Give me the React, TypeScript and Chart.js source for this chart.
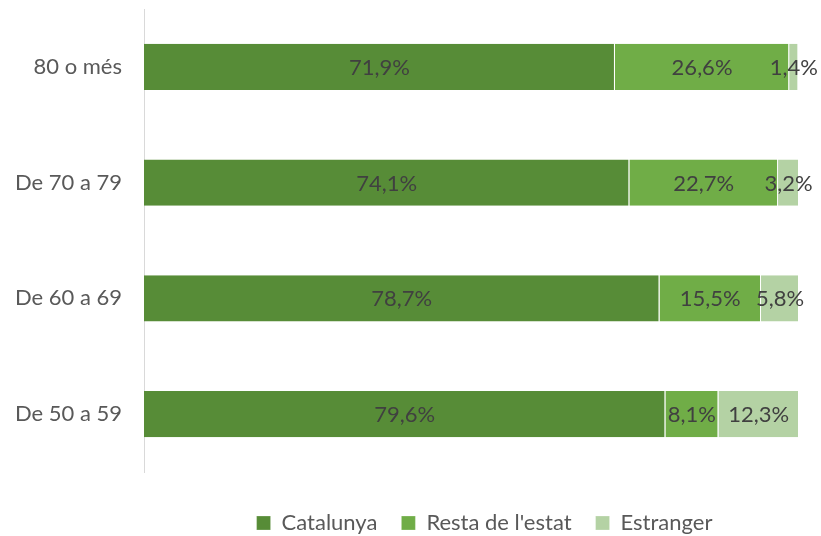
import React, { useEffect, useRef } from "react";
import { Chart, registerables } from "chart.js";

Chart.register(...registerables);

const categories = ["80 o més", "De 70 a 79", "De 60 a 69", "De 50 a 59"];
const catalunya = [71.9, 74.1, 78.7, 79.6];
const restaEstat = [26.6, 22.7, 15.5, 8.1];
const estranger = [1.4, 3.2, 5.8, 12.3];
const seriesNames = ["Catalunya", "Resta de l'estat", "Estranger"];
const seriesColors = ["#578C37", "#70AD47", "#B4D2A4"];

const FONT = "Lato, 'Open Sans', sans-serif";
const FS = 22;

const fmt = (v: number) => v.toFixed(1).replace(".", ",") + "%";

const labelPlugin = {
  id: "barLabels",
  afterDatasetsDraw(chart: any) {
    const ctx = chart.ctx;
    ctx.save();
    ctx.font = `${FS}px ${FONT}`;
    ctx.fillStyle = "#404040";
    ctx.textAlign = "center";
    ctx.textBaseline = "middle";
    chart.data.datasets.forEach((ds: any, di: number) => {
      const meta = chart.getDatasetMeta(di);
      meta.data.forEach((bar: any, i: number) => {
        const v = ds.data[i];
        const cx = (bar.x + bar.base) / 2;
        ctx.fillText(fmt(v), cx, bar.y + 1);
      });
    });
    ctx.restore();
  },
};

const legendShift = {
  id: "legendShift",
  afterLayout(chart: any) {
    const lg = chart.legend;
    if (!lg) return;
    const dx = 85;
    const dy = 16;
    lg.left += dx;
    lg.right += dx;
    lg.top += dy;
    lg.bottom += dy;
  },
};

export default function App() {
  const ref = useRef<HTMLCanvasElement | null>(null);
  useEffect(() => {
    if (!ref.current) return;
    const data = [catalunya, restaEstat, estranger];
    const chart = new Chart(ref.current, {
      type: "bar",
      data: {
        labels: categories,
        datasets: seriesNames.map((name, k) => ({
          label: name,
          data: data[k],
          backgroundColor: seriesColors[k],
          borderColor: "#ffffff",
          borderWidth: { left: 0, right: 1, top: 0, bottom: 0 },
          borderSkipped: false,
          categoryPercentage: 1,
          barPercentage: 0.4,
        })),
      },
      options: {
        indexAxis: "y",
        animation: false,
        responsive: false,
        maintainAspectRatio: false,
        layout: { padding: { top: 9, right: 22, left: 0, bottom: 8 } },
        scales: {
          x: {
            stacked: true,
            min: 0,
            max: 100,
            display: false,
          },
          y: {
            stacked: true,
            grid: { display: false, drawTicks: false },
            border: { display: true, color: "#D9D9D9", width: 1 },
            ticks: {
              color: "#595959",
              font: { family: FONT, size: FS },
              padding: 22,
            },
            afterFit: (scale: any) => {
              scale.width = 144;
              scale.paddingTop = 0;
              scale.paddingBottom = 0;
            },
          },
        },
        plugins: {
          legend: {
            position: "bottom",
            labels: {
              color: "#595959",
              font: { family: FONT, size: FS },
              boxWidth: 14,
              boxHeight: 14,
              padding: 24,
            },
          },
          tooltip: { enabled: false },
        },
      },
      plugins: [labelPlugin, legendShift],
    });
    return () => chart.destroy();
  }, []);
  return (
    <div style={{ position: "fixed", left: 0, top: 0, width: 821, height: 536, background: "#fff" }}>
      <canvas ref={ref} width={821} height={536} style={{ width: 821, height: 536 }} />
    </div>
  );
}
